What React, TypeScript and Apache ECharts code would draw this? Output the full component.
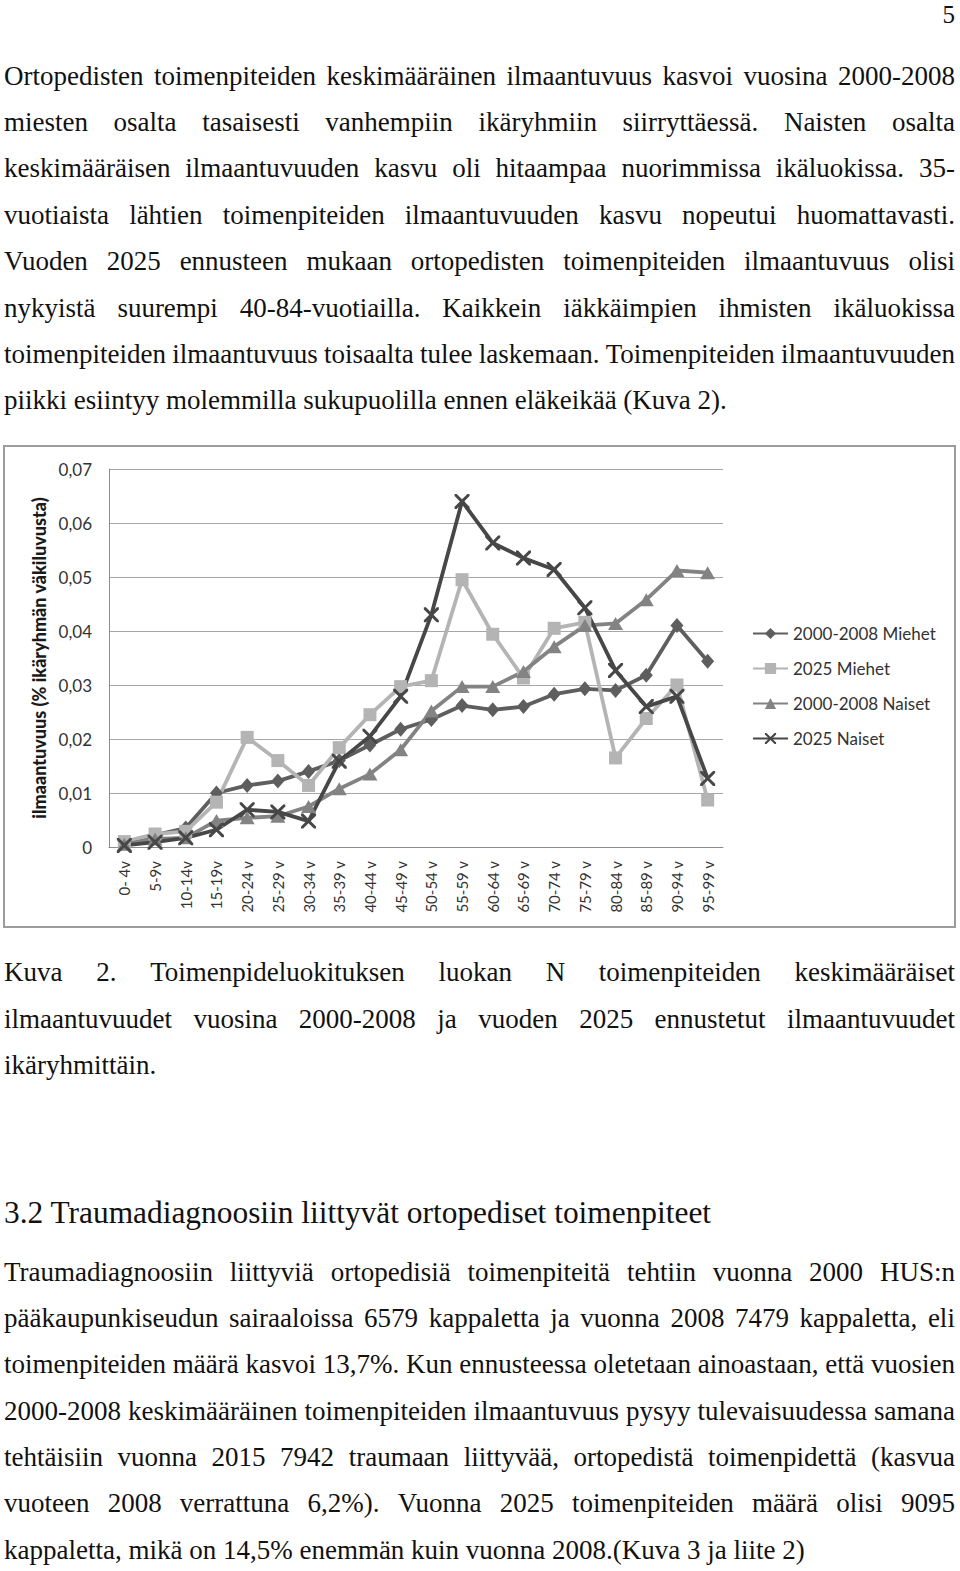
import React, { useEffect, useRef } from "react";
import * as echarts from "echarts";

const categories = ["0- 4v", "5-9v", "10-14v", "15-19v", "20-24 v", "25-29 v", "30-34 v", "35-39 v", "40-44 v", "45-49 v", "50-54 v", "55-59 v", "60-64 v", "65-69 v", "70-74 v", "75-79 v", "80-84 v", "85-89 v", "90-94 v", "95-99 v"];
const miehet2000 = [0.0008, 0.0022, 0.0035, 0.0100, 0.0114, 0.0122, 0.0140, 0.0160, 0.0189, 0.0218, 0.0236, 0.0262, 0.0254, 0.0260, 0.0283, 0.0293, 0.0290, 0.0318, 0.0410, 0.0344];
const miehet2025 = [0.0010, 0.0024, 0.0029, 0.0083, 0.0203, 0.0160, 0.0114, 0.0184, 0.0245, 0.0297, 0.0308, 0.0495, 0.0394, 0.0313, 0.0405, 0.0416, 0.0165, 0.0238, 0.0300, 0.0087];
const naiset2000 = [0.0005, 0.0015, 0.0017, 0.0049, 0.0054, 0.0057, 0.0075, 0.0108, 0.0135, 0.0180, 0.0252, 0.0297, 0.0297, 0.0325, 0.0371, 0.0410, 0.0414, 0.0458, 0.0512, 0.0508];
const naiset2025 = [0.0003, 0.0009, 0.0017, 0.0032, 0.0069, 0.0065, 0.0048, 0.0159, 0.0205, 0.0279, 0.0430, 0.0640, 0.0563, 0.0535, 0.0514, 0.0443, 0.0327, 0.0260, 0.0279, 0.0127];
const seriesNames = ["2000-2008 Miehet", "2025 Miehet", "2000-2008 Naiset", "2025 Naiset"];
const yAxisTitle = "ilmaantuvuus (% ikäryhmän väkiluvusta)";

const para1 = [
  "Ortopedisten toimenpiteiden keskimääräinen ilmaantuvuus kasvoi vuosina 2000-2008",
  "miesten osalta tasaisesti vanhempiin ikäryhmiin siirryttäessä. Naisten osalta",
  "keskimääräisen ilmaantuvuuden kasvu oli hitaampaa nuorimmissa ikäluokissa. 35-",
  "vuotiaista lähtien toimenpiteiden ilmaantuvuuden kasvu nopeutui huomattavasti.",
  "Vuoden 2025 ennusteen mukaan ortopedisten toimenpiteiden ilmaantuvuus olisi",
  "nykyistä suurempi 40-84-vuotiailla. Kaikkein iäkkäimpien ihmisten ikäluokissa",
  "toimenpiteiden ilmaantuvuus toisaalta tulee laskemaan. Toimenpiteiden ilmaantuvuuden",
  "piikki esiintyy molemmilla sukupuolilla ennen eläkeikää (Kuva 2).",
];
const caption = [
  "Kuva 2. Toimenpideluokituksen luokan N toimenpiteiden keskimääräiset",
  "ilmaantuvuudet vuosina 2000-2008 ja vuoden 2025 ennustetut ilmaantuvuudet",
  "ikäryhmittäin.",
];
const heading = "3.2 Traumadiagnoosiin liittyvät ortopediset toimenpiteet";
const para2 = [
  "Traumadiagnoosiin liittyviä ortopedisiä toimenpiteitä tehtiin vuonna 2000 HUS:n",
  "pääkaupunkiseudun sairaaloissa 6579 kappaletta ja vuonna 2008 7479 kappaletta, eli",
  "toimenpiteiden määrä kasvoi 13,7%. Kun ennusteessa oletetaan ainoastaan, että vuosien",
  "2000-2008 keskimääräinen toimenpiteiden ilmaantuvuus pysyy tulevaisuudessa samana",
  "tehtäisiin vuonna 2015 7942 traumaan liittyvää, ortopedistä toimenpidettä (kasvua",
  "vuoteen 2008 verrattuna 6,2%). Vuonna 2025 toimenpiteiden määrä olisi 9095",
  "kappaletta, mikä on 14,5% enemmän kuin vuonna 2008.(Kuva 3 ja liite 2)",
];

const FONT = "'Liberation Serif', 'Times New Roman', serif";
const FS = 27;
const LH = 46;

function Line({ text, y, justify, size = FS }: { text: string; y: number; justify: boolean; size?: number }) {
  const base: React.CSSProperties = {
    position: "absolute",
    left: 4,
    width: 951,
    top: y - LH / 2,
    height: LH,
    lineHeight: LH + "px",
    fontFamily: FONT,
    fontSize: size,
    color: "#111",
    whiteSpace: "nowrap",
  };
  if (justify) {
    const words = text.split(" ");
    return (
      <div style={{ ...base, display: "flex", justifyContent: "space-between" }}>
        {words.map((w, i) => (
          <span key={i}>{w}</span>
        ))}
      </div>
    );
  }
  return <div style={base}>{text}</div>;
}

const X_MARK = "path://M0,0L1.4,0L5,3.6L8.6,0L10,0L10,1.4L6.4,5L10,8.6L10,10L8.6,10L5,6.4L1.4,10L0,10L0,8.6L3.6,5L0,1.4Z";

function Chart() {
  const ref = useRef<HTMLDivElement>(null);
  useEffect(() => {
    if (!ref.current) return;
    const chart = echarts.init(ref.current, undefined, { renderer: "svg" });
    const cf = "Lato, 'Open Sans', sans-serif";
    const mk = (name: string, data: number[], color: string, symbol: string, size: any) => ({
      name,
      type: "line",
      data,
      symbol,
      symbolSize: size,
      showSymbol: true,
      lineStyle: { color, width: 3.8 },
      itemStyle: { color, borderColor: color, borderWidth: 0 },
      emphasis: { disabled: true },
    });
    chart.setOption({
      animation: false,
      textStyle: { fontFamily: cf },
      grid: { left: 104, top: 22, width: 614, height: 378, containLabel: false },
      legend: {
        orient: "vertical",
        left: 742,
        top: 173,
        itemWidth: 35,
        itemHeight: 14,
        itemGap: 18,
        textStyle: { fontFamily: cf, fontSize: 17, color: "#333" },
        data: seriesNames,
      },
      xAxis: {
        type: "category",
        data: categories,
        boundaryGap: true,
        axisLine: { lineStyle: { color: "#8c8c8c", width: 1 } },
        axisTick: { show: false },
        axisLabel: { rotate: 90, fontSize: 15, color: "#333", margin: 14, fontFamily: cf },
      },
      yAxis: {
        type: "value",
        min: 0,
        max: 0.07,
        interval: 0.01,
        name: yAxisTitle,
        nameLocation: "middle",
        nameGap: 60,
        nameRotate: 90,
        nameTextStyle: { fontFamily: cf, fontSize: 18, fontWeight: 900, color: "#1a1a1a" },
        axisLine: { show: true, lineStyle: { color: "#8c8c8c", width: 1 } },
        axisTick: { show: false },
        splitLine: { lineStyle: { color: "#a6a6a6", width: 1 } },
        axisLabel: {
          fontSize: 17,
          color: "#333",
          margin: 17,
          fontFamily: cf,
          formatter: (v: number) => (v === 0 ? "0" : v.toFixed(2).replace(".", ",")),
        },
      },
      series: [
        mk(seriesNames[0], miehet2000, "#5e5e5e", "diamond", [13, 15]),
        mk(seriesNames[1], miehet2025, "#b4b4b4", "rect", 13),
        mk(seriesNames[2], naiset2000, "#838383", "triangle", [15, 13]),
        mk(seriesNames[3], naiset2025, "#474747", X_MARK, 15),
      ],
    });
    return () => chart.dispose();
  }, []);
  return <div ref={ref} style={{ position: "absolute", left: 0, top: 0, width: 949, height: 479 }} />;
}

export default function App() {
  const p1Y = [76, 122, 168, 215, 261, 308, 354, 400];
  const capY = [972, 1019, 1065];
  const p2Y = [1272, 1318, 1364, 1411, 1457, 1503, 1550];
  return (
    <div style={{ position: "absolute", left: 0, top: 0, width: 960, height: 1571, background: "#fff", overflow: "hidden" }}>
      <div style={{ position: "absolute", right: 5, top: 1, fontFamily: FONT, fontSize: 25, lineHeight: "28px", color: "#111" }}>5</div>
      {para1.map((t, i) => (
        <Line key={"a" + i} text={t} y={p1Y[i]} justify={i < para1.length - 1} />
      ))}
      <div style={{ position: "absolute", left: 3, top: 445, width: 953, height: 483, boxSizing: "border-box", border: "2px solid #9c9c9c" }}>
        <Chart />
      </div>
      {caption.map((t, i) => (
        <Line key={"c" + i} text={t} y={capY[i]} justify={i < caption.length - 1} />
      ))}
      <Line text={heading} y={1213} justify={false} size={31.4} />
      {para2.map((t, i) => (
        <Line key={"b" + i} text={t} y={p2Y[i]} justify={i < para2.length - 1} />
      ))}
    </div>
  );
}
